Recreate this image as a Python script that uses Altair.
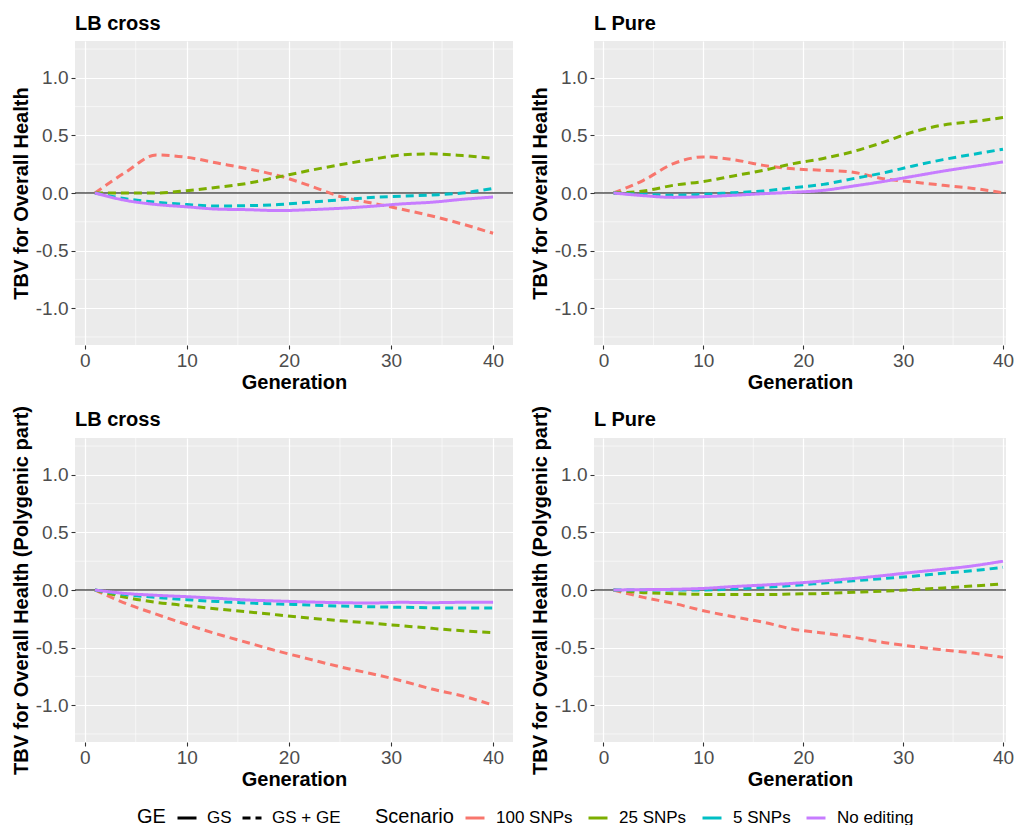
import altair as alt
import pandas as pd

GEN = [1, 4, 7, 10, 13, 16, 19, 22, 25, 28, 31, 34, 37, 40]
SCENARIOS = ["100 SNPs", "25 SNPs", "5 SNPs", "No editing"]
SCEN_GE = ["GS + GE", "GS + GE", "GS + GE", "GS"]
GE_LEVELS = ["GS", "GS + GE"]
COLORS = ["#F8766D", "#7CAE00", "#00BFC4", "#C77CFF"]

# Top-left: LB cross, Overall Health
TL_100 = [0, 0.18, 0.33, 0.31, 0.26, 0.21, 0.15, 0.065, -0.03, -0.085, -0.14, -0.20, -0.27, -0.35]
TL_25 = [0, 0.0, 0.0, 0.02, 0.05, 0.085, 0.14, 0.195, 0.245, 0.29, 0.33, 0.34, 0.325, 0.30]
TL_5 = [0, -0.05, -0.08, -0.10, -0.113, -0.11, -0.10, -0.08, -0.06, -0.04, -0.028, -0.017, 0.0, 0.04]
TL_NO = [0, -0.064, -0.10, -0.12, -0.14, -0.145, -0.153, -0.145, -0.133, -0.116, -0.095, -0.08, -0.055, -0.035]

# Top-right: L Pure, Overall Health
TR_100 = [0, 0.11, 0.255, 0.313, 0.29, 0.24, 0.21, 0.197, 0.18, 0.125, 0.096, 0.067, 0.04, 0.003]
TR_25 = [0, 0.017, 0.067, 0.10, 0.148, 0.197, 0.255, 0.30, 0.36, 0.44, 0.53, 0.59, 0.62, 0.655]
TR_5 = [0, -0.012, -0.02, -0.012, 0.003, 0.017, 0.046, 0.075, 0.125, 0.174, 0.235, 0.29, 0.336, 0.38]
TR_NO = [0, -0.023, -0.038, -0.032, -0.02, -0.006, 0.006, 0.023, 0.06, 0.10, 0.145, 0.19, 0.23, 0.27]

# Bottom-left: LB cross, Polygenic part
BL_100 = [0, -0.116, -0.21, -0.30, -0.383, -0.458, -0.533, -0.60, -0.667, -0.725, -0.788, -0.86, -0.92, -1.0]
BL_25 = [0, -0.064, -0.107, -0.136, -0.165, -0.19, -0.217, -0.243, -0.267, -0.287, -0.31, -0.333, -0.354, -0.37]
BL_5 = [0, -0.04, -0.064, -0.084, -0.10, -0.113, -0.122, -0.13, -0.139, -0.145, -0.15, -0.154, -0.157, -0.157]
BL_NO = [0, -0.03, -0.046, -0.058, -0.072, -0.087, -0.096, -0.104, -0.11, -0.113, -0.107, -0.11, -0.107, -0.107]

# Bottom-right: L Pure, Polygenic part
BR_100 = [0, -0.064, -0.116, -0.18, -0.232, -0.28, -0.34, -0.374, -0.41, -0.455, -0.49, -0.52, -0.548, -0.585]
BR_25 = [0, -0.023, -0.032, -0.038, -0.04, -0.04, -0.035, -0.03, -0.02, -0.01, 0.003, 0.017, 0.035, 0.052]
BR_5 = [0, 0.0, 0.0, 0.0, 0.009, 0.023, 0.04, 0.06, 0.08, 0.10, 0.12, 0.145, 0.168, 0.197]
BR_NO = [0, 0.003, 0.006, 0.014, 0.03, 0.043, 0.058, 0.078, 0.10, 0.125, 0.154, 0.18, 0.21, 0.25]

X_TICKS = [0, 10, 20, 30, 40]
Y_TICKS = [-1.0, -0.5, 0.0, 0.5, 1.0]
X_MINOR = [5, 15, 25, 35]
Y_MINOR = [-1.25, -0.75, -0.25, 0.25, 0.75, 1.25]
Y_DOMAIN = [-1.32, 1.32]

FONT = "Liberation Sans"


def make_df(series):
    rows = []
    for scen, ge, vals in zip(SCENARIOS, SCEN_GE, series):
        for g, v in zip(GEN, vals):
            rows.append({"g": g, "v": v, "Scenario": scen, "GE": ge})
    return pd.DataFrame(rows)


LEGEND_COMMON = dict(
    orient="none", legendY=766, direction="horizontal", titleOrient="left",
    symbolType="stroke", symbolStrokeWidth=3, symbolSize=361,
    labelFontSize=17, titleFontSize=20, titleFontWeight="normal",
    labelFont=FONT, titleFont=FONT, labelColor="black", titleColor="black",
    gridAlign="none",
)

color_enc = alt.Color(
    "Scenario:N",
    scale=alt.Scale(domain=SCENARIOS, range=COLORS),
    legend=alt.Legend(
        legendX=300, title="Scenario", titlePadding=10, labelOffset=10,
        columnPadding=9, **LEGEND_COMMON,
    ),
)
dash_enc = alt.StrokeDash(
    "GE:N",
    scale=alt.Scale(domain=GE_LEVELS, range=[[1, 0], [8, 5]]),
    legend=alt.Legend(
        legendX=62, title="GE", titlePadding=10, labelOffset=9,
        columnPadding=4, symbolStrokeColor="black", **LEGEND_COMMON,
    ),
)


def panel(series, title, ytitle, xdom, width, title_dy):
    df = make_df(series)
    xenc = alt.X(
        "g:Q",
        scale=alt.Scale(domain=xdom, nice=False, zero=False),
        axis=alt.Axis(values=X_TICKS, title="Generation"),
    )
    yenc = alt.Y(
        "v:Q",
        scale=alt.Scale(domain=Y_DOMAIN, nice=False, zero=False),
        axis=alt.Axis(
            values=Y_TICKS, title=ytitle,
            labelExpr="replace(format(datum.value, '.1f'), '\u2212', '-')",
        ),
    )
    minor_x = alt.Chart(pd.DataFrame({"g": X_MINOR})).mark_rule(
        color="white", strokeWidth=0.6
    ).encode(x=xenc)
    minor_y = alt.Chart(pd.DataFrame({"v": Y_MINOR})).mark_rule(
        color="white", strokeWidth=0.6
    ).encode(y=yenc)
    hline = alt.Chart(pd.DataFrame({"v": [0.0]})).mark_rule(
        color="black", strokeWidth=1.1
    ).encode(y=yenc)
    lines = alt.Chart(df).mark_line(strokeWidth=3, interpolate="monotone").encode(
        x=xenc, y=yenc, color=color_enc, strokeDash=dash_enc
    )
    return alt.layer(minor_x, minor_y, hline, lines).properties(
        width=width, height=304,
        title=alt.TitleParams(title, anchor="start", frame="group", dy=title_dy),
    )


YT1 = "TBV for Overall Health"
YT2 = "TBV for Overall Health (Polygenic part)"
XDOM_L = [-0.95, 41.95]
XDOM_R = [-0.95, 40.3]

p1 = panel([TL_100, TL_25, TL_5, TL_NO], "LB cross", YT1, XDOM_L, 438, 0)
p2 = panel([TR_100, TR_25, TR_5, TR_NO], "L Pure", YT1, XDOM_R, 412, 0)
p3 = panel([BL_100, BL_25, BL_5, BL_NO], "LB cross", YT2, XDOM_L, 438, 31)
p4 = panel([BR_100, BR_25, BR_5, BR_NO], "L Pure", YT2, XDOM_R, 412, 31)

chart = alt.concat(
    p1, p2, p3, p4, columns=2, spacing={"row": 93, "column": 81}, bounds="flush"
).resolve_scale(
    x="independent", y="independent", color="shared", strokeDash="shared"
).properties(
    padding={"left": 3, "top": 5, "right": 0, "bottom": 0}
).configure_view(
    fill="#EBEBEB", strokeWidth=0
).configure_axis(
    labelFont=FONT, labelFontSize=19, labelColor="#4D4D4D",
    titleFont=FONT, titleFontSize=20, titleFontWeight="bold", titleColor="black",
    tickColor="#333333", tickSize=4, tickWidth=1.1,
    domain=False, grid=True, gridColor="white", gridWidth=1.2,
).configure_axisX(
    labelPadding=2, titlePadding=2,
).configure_axisY(
    labelPadding=3, titlePadding=4,
).configure_title(
    font=FONT, fontSize=20, fontWeight="bold", color="black", offset=7,
)

chart.save("out.html", embed_options={"renderer": "svg", "actions": False})
